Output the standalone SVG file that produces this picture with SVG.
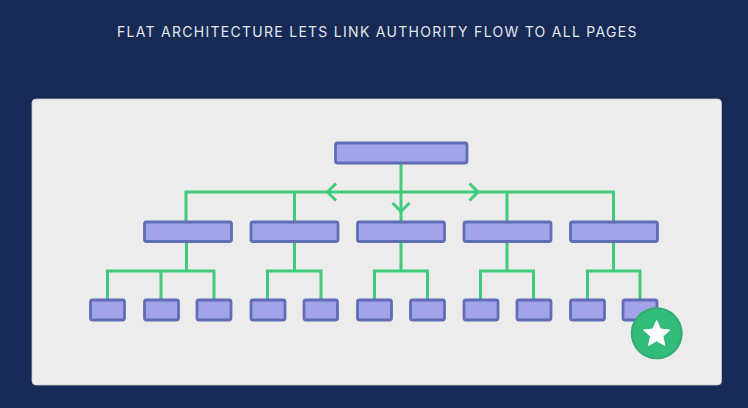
<svg xmlns="http://www.w3.org/2000/svg" width="748" height="408" viewBox="0 0 748 408">
<style>
.n{fill:#a3a3ea;stroke:#5f6db5;stroke-width:2.8}
.c{fill:none;stroke:#3ecb7c;stroke-width:3}
.t{font-family:"Inter","Liberation Sans",sans-serif;font-size:14px;letter-spacing:.6px;fill:#e2e6ec}
</style>
<rect width="748" height="408" fill="#172a56"/>
<rect x="32" y="99" width="689.500" height="286" rx="4" fill="#ececec" stroke="#c9ccd2" stroke-width=".8"/>
<text class="t" x="117" y="37" textLength="520">FLAT ARCHITECTURE LETS LINK AUTHORITY FLOW TO ALL PAGES</text>
<g id="connectors" class="c">
<path d="M186 222V192H613.500V222M294.500 192V222M507 192V222M401 163V222"/>
<path d="M336 183.500L327.500 192L336 200.500M469.500 183.500L478 192L469.500 200.500M392.500 203L401 211.500L409.500 203"/>
<path d="M186.500 242V271M107.500 300V271H214V300M161 271V300"/>
<path d="M294.500 242V271M267.500 300V271H321V300"/>
<path d="M401 242V271M374.500 300V271H427.500V300"/>
<path d="M507 242V271M480.500 300V271H533.500V300"/>
<path d="M613.500 242V271M587.500 300V271H640V300"/>
</g>
<g id="root"><rect class="n" x="335.500" y="143" width="131.500" height="20" rx="2"/></g>
<g id="l1"><rect class="n" x="144.500" y="222" width="87" height="19.500" rx="2"/></g>
<g id="l2"><rect class="n" x="251" y="222" width="87" height="19.500" rx="2"/></g>
<g id="l3"><rect class="n" x="357.500" y="222" width="87" height="19.500" rx="2"/></g>
<g id="l4"><rect class="n" x="464" y="222" width="87" height="19.500" rx="2"/></g>
<g id="l5"><rect class="n" x="570.500" y="222" width="87" height="19.500" rx="2"/></g>
<g id="a1"><rect class="n" x="90.500" y="300" width="34" height="20" rx="2"/></g>
<g id="a2"><rect class="n" x="144.500" y="300" width="34" height="20" rx="2"/></g>
<g id="a3"><rect class="n" x="197" y="300" width="34" height="20" rx="2"/></g>
<g id="b1"><rect class="n" x="251" y="300" width="34" height="20" rx="2"/></g>
<g id="b2"><rect class="n" x="304" y="300" width="33.500" height="20" rx="2"/></g>
<g id="c1"><rect class="n" x="357.500" y="300" width="34" height="20" rx="2"/></g>
<g id="c2"><rect class="n" x="410.500" y="300" width="34" height="20" rx="2"/></g>
<g id="d1"><rect class="n" x="464" y="300" width="34" height="20" rx="2"/></g>
<g id="d2"><rect class="n" x="517" y="300" width="34" height="20" rx="2"/></g>
<g id="e1"><rect class="n" x="570.500" y="300" width="34" height="20" rx="2"/></g>
<g id="e2"><rect class="n" x="623" y="300" width="34" height="20" rx="2"/></g>
<g id="badge">
<circle cx="656.700" cy="333.300" r="25" fill="#31bc79" stroke="#35ab74" stroke-width="2"/>
<polygon points="656.700,320.500 660.500,329 669.900,330 662.900,336.300 664.900,345.500 656.700,340.800 648.500,345.500 650.500,336.300 643.500,330 652.900,329" fill="#fff" stroke="#fff" stroke-width="1" stroke-linejoin="round"/>
</g>
</svg>
